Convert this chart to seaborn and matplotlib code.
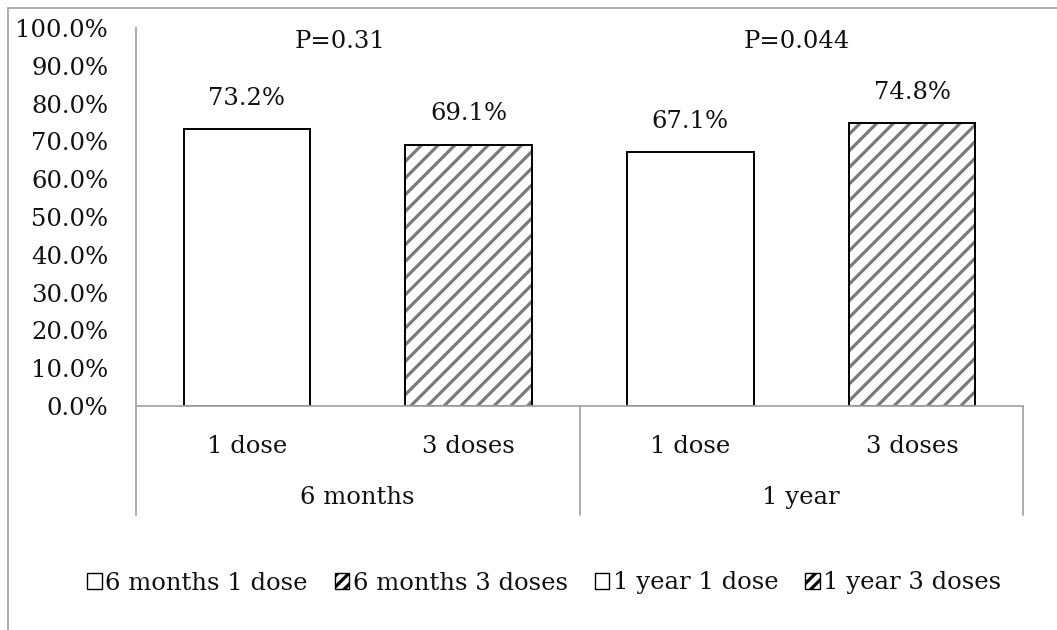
import numpy as np
import pandas as pd
import matplotlib
matplotlib.use("Agg")
import matplotlib.pyplot as plt
from matplotlib.lines import Line2D
from matplotlib.patches import Patch
import seaborn as sns

# data
periods = ["6 months", "6 months", "1 year", "1 year"]
doses = ["1 dose", "3 doses", "1 dose", "3 doses"]
values = [73.2, 69.1, 67.1, 74.8]
hatched = [False, True, False, True]
p_labels = ["P=0.31", "P=0.044"]
p_x = [0.42, 2.48]
p_y = 96.5

bar_names = [f"{p} {d}" for p, d in zip(periods, doses)]
df = pd.DataFrame({"bar": bar_names, "value": values})

sns.set_theme(style="white")
plt.rcParams["font.family"] = ["DejaVu Serif"]
plt.rcParams["hatch.linewidth"] = 2.3
TXT = "#111111"
GRID = "#a6a6a6"
FS = 17.5

fig = plt.figure(figsize=(10.57, 6.30), dpi=100)
ax = fig.add_axes([136 / 1057, 1 - 406 / 630, (1023 - 136) / 1057, (406 - 28) / 630])

# hatch layer (grey stripes), then black outline layer on top
sns.barplot(data=df, x="bar", y="value", color="white", width=0.57,
            edgecolor="#7a7a7a", linewidth=0, saturation=1, ax=ax)
for patch, h in zip(ax.patches, hatched):
    if h:
        patch.set_hatch("//")
sns.barplot(data=df, x="bar", y="value", fill=False, width=0.57,
            edgecolor="black", linewidth=1.4, ax=ax)

ax.set_ylim(0, 100)
ax.set_xlim(-0.5, len(values) - 0.5)
ax.set_yticks(np.arange(0, 101, 10))
ax.set_yticklabels([f"{v:.1f}%" for v in np.arange(0, 101, 10)], fontsize=FS, color=TXT)
ax.set_xticks(range(len(doses)))
ax.set_xticklabels(doses, fontsize=FS, color=TXT)
ax.tick_params(axis="y", length=0, pad=20)
ax.tick_params(axis="x", length=0, pad=21)
ax.set_xlabel("")
ax.set_ylabel("")
for s in ["top", "right"]:
    ax.spines[s].set_visible(False)
for s in ["left", "bottom"]:
    ax.spines[s].set_color(GRID)
    ax.spines[s].set_linewidth(1.3)

# value labels
for i, v in enumerate(values):
    ax.annotate(f"{v:.1f}%", xy=(i, v), xytext=(0, 14), textcoords="offset points",
                ha="center", va="bottom", fontsize=FS, color=TXT)

# p-values
for x, t in zip(p_x, p_labels):
    ax.text(x, p_y, t, ha="center", va="center", fontsize=FS, color=TXT)

# multi-level category axis: group labels and separators
trans = ax.get_xaxis_transform()
groups = ["6 months", "1 year"]
for g, gi in enumerate(groups):
    ax.annotate(gi, xy=(g * 2 + 0.5, 0), xycoords=trans, xytext=(0, -66),
                textcoords="offset points", ha="center", va="center",
                fontsize=FS, color=TXT, annotation_clip=False)
for x in [-0.5, 1.5, 3.5]:
    ax.plot([x, x], [0, -(515 - 406) / 378], transform=trans, color=GRID,
            lw=1.3, clip_on=False)

# legend
handles = [Patch(facecolor="white", edgecolor="black", hatch="///" if h else None,
                 linewidth=1.0, label=n) for n, h in zip(bar_names, hatched)]
fig.legend(handles=handles, loc="center", bbox_to_anchor=(0.515, 1 - 583 / 630),
           ncol=4, frameon=False, fontsize=FS, handlelength=0.6, handleheight=0.6,
           handletextpad=0.15, columnspacing=1.1, labelcolor=TXT)

# outer chart border (top and left visible)
fig.add_artist(Line2D([8 / 1057, 1], [1 - 8 / 630] * 2, transform=fig.transFigure,
                      color=GRID, lw=1.3))
fig.add_artist(Line2D([8 / 1057] * 2, [0, 1 - 8 / 630], transform=fig.transFigure,
                      color=GRID, lw=1.3))

fig.savefig("out.png", dpi=100)
plt.close(fig)
